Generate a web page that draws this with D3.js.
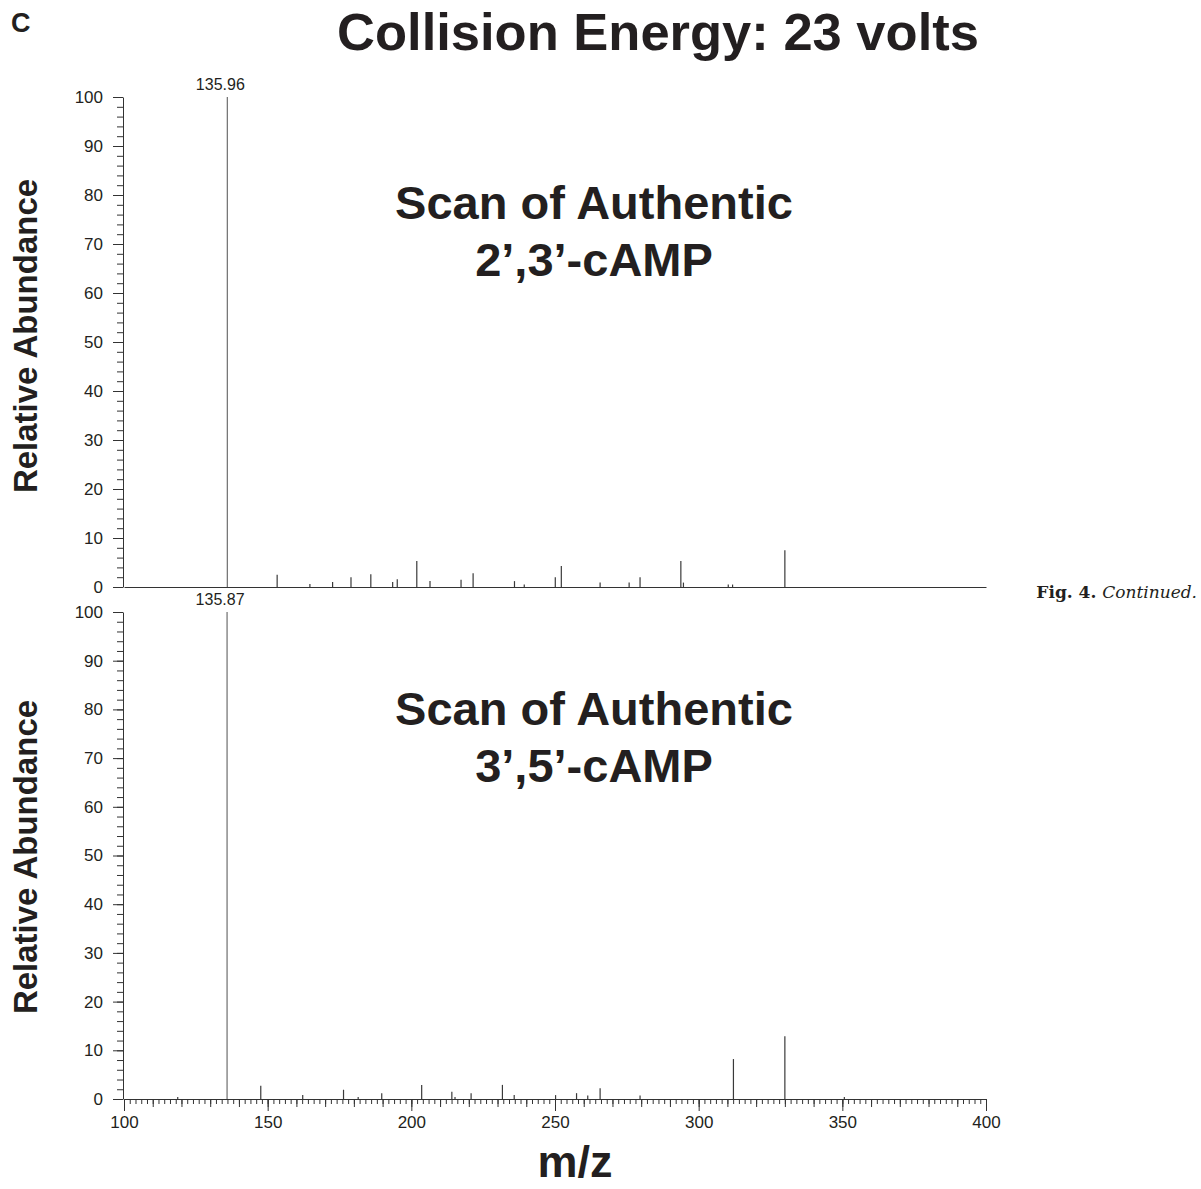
<!DOCTYPE html>
<html><head><meta charset="utf-8">
<script src="https://cdn.jsdelivr.net/npm/d3@7"></script>
<style>
html,body{margin:0;padding:0;background:#fff;}
svg{display:block;}
</style></head>
<body>
<svg id="chart" width="1201" height="1189"></svg>
<script>
// ---- data ----
const panelLabel = "C";
const mainTitle = "Collision Energy: 23 volts";
const xTickLabels = [100, 150, 200, 250, 300, 350, 400];
const yTickLabels = [0, 10, 20, 30, 40, 50, 60, 70, 80, 90, 100];

const topTitle = ["Scan of Authentic", "2\u2019,3\u2019-cAMP"];
const topPeakLabel = "135.96";
const topMz =  [135.96, 153.3, 164.7, 172.6, 179.0, 185.9, 193.5, 195.1, 201.9, 206.5, 217.3, 221.5, 235.9, 239.3, 250.1, 252.2, 265.7, 275.8, 279.6, 293.8, 294.7, 310.3, 311.8, 330.0];
const topInt = [100,    2.5,   0.6,   1.0,   2.0,   2.6,   1.0,   1.6,   5.3,   1.2,   1.5,   2.8,   1.2,   0.5,   2.0,   4.3,   0.9,   0.9,   2.0,   5.3,   0.9,   0.5,   0.5,   7.5];

const botTitle = ["Scan of Authentic", "3\u2019,5\u2019-cAMP"];
const botPeakLabel = "135.87";
const botMz =  [118.7, 135.87, 147.6, 162.2, 176.4, 181.5, 189.7, 203.6, 214.1, 215.2, 220.8, 231.7, 235.8, 250.2, 257.5, 261.4, 265.7, 279.6, 312.1, 330.0, 350.7];
const botInt = [0.4,   100,    2.7,   0.8,   1.9,   0.4,   1.2,   2.9,   1.5,   0.4,   1.2,   2.9,   0.8,   0.8,   1.2,   0.7,   2.2,   0.7,   8.2,   12.9,  0.4];

const xLabel = "m/z";
const yLabel = "Relative Abundance";
const captionBold = "Fig. 4.";
const captionItalic = "Continued.";

// ---- layout ----
const svg = d3.select("#chart");
const font = "'Liberation Sans', Arial, Helvetica, sans-serif";
const x = d3.scaleLinear().domain([100, 400]).range([124, 986]);

svg.append("text").attr("x", 11).attr("y", 32).text(panelLabel)
  .attr("font-family", font).attr("font-weight", "bold").attr("font-size", 27).attr("fill", "#231f20");
svg.append("text").attr("x", 658).attr("y", 50).attr("text-anchor", "middle").text(mainTitle)
  .attr("font-family", font).attr("font-weight", "bold").attr("font-size", 52.5).attr("fill", "#231f20");

function panel(cfg) {
  const y = d3.scaleLinear().domain([0, 100]).range([cfg.y0, cfg.y100]);
  const g = svg.append("g");
  const data = cfg.mz.map((m, i) => ({ mz: m, v: cfg.int[i] }));

  // y axis: major ticks with labels every 10, minor every 2
  const yAxisMinor = d3.axisLeft(y).tickValues(d3.range(0, 101, 2)).tickSize(6).tickFormat("");
  g.append("g").attr("transform", "translate(123,0)").call(yAxisMinor)
    .call(s => s.select(".domain").remove())
    .call(s => s.selectAll("line").attr("stroke", "#333").attr("stroke-width", 1));
  const yAxis = d3.axisLeft(y).tickValues(yTickLabels).tickSize(10).tickPadding(10).tickSizeOuter(0);
  g.append("g").attr("transform", "translate(123,0)").call(yAxis)
    .call(s => s.select(".domain").attr("stroke", "#333"))
    .call(s => s.selectAll("line").attr("stroke", "#333"))
    .call(s => s.selectAll("text").attr("font-family", font).attr("font-size", 17).attr("fill", "#231f20"));

  // x baseline
  if (cfg.showXTicks) {
    const minor = d3.axisBottom(x).tickValues(d3.range(100, 401, 2)).tickSize(5).tickFormat("").tickSizeOuter(0);
    g.append("g").attr("transform", `translate(0,${cfg.y0})`).call(minor)
      .call(s => s.selectAll("line").attr("stroke", "#333"))
      .call(s => s.select(".domain").attr("stroke", "#333"));
    const mid = d3.axisBottom(x).tickValues(d3.range(100, 401, 10)).tickSize(8).tickFormat("").tickSizeOuter(0);
    g.append("g").attr("transform", `translate(0,${cfg.y0})`).call(mid)
      .call(s => s.selectAll("line").attr("stroke", "#333"))
      .call(s => s.select(".domain").remove());
    const major = d3.axisBottom(x).tickValues(xTickLabels).tickSize(12).tickPadding(5).tickSizeOuter(0);
    g.append("g").attr("transform", `translate(0,${cfg.y0})`).call(major)
      .call(s => s.selectAll("line").attr("stroke", "#333"))
      .call(s => s.select(".domain").remove())
      .call(s => s.selectAll("text").attr("font-family", font).attr("font-size", 17).attr("fill", "#231f20"));
  } else {
    const base = d3.axisBottom(x).tickValues([]).tickSizeOuter(0);
    g.append("g").attr("transform", `translate(0,${cfg.y0})`).call(base)
      .call(s => s.select(".domain").attr("stroke", "#333"));
  }

  // peaks
  g.append("g").selectAll("line").data(data).join("line")
    .attr("x1", d => x(d.mz)).attr("x2", d => x(d.mz))
    .attr("y1", y(0)).attr("y2", d => y(d.v))
    .attr("stroke", d => d.v > 50 ? "#6d6d6d" : "#3a3a3a").attr("stroke-width", 1.2);

  // base peak label
  const top = data.reduce((a, b) => (b.v > a.v ? b : a));
  g.append("text").attr("x", x(top.mz) - 7).attr("y", y(100) - 7).attr("text-anchor", "middle")
    .text(cfg.peakLabel).attr("font-family", font).attr("font-size", 16).attr("fill", "#231f20");

  // y label
  g.append("text").attr("transform", `translate(37,${cfg.labelY}) rotate(-90)`).attr("text-anchor", "middle")
    .text(yLabel).attr("font-family", font).attr("font-weight", "bold").attr("font-size", 33).attr("fill", "#231f20");

  // in-plot title
  cfg.title.forEach((t, i) => {
    g.append("text").attr("x", 594).attr("y", cfg.titleY + i * 57).attr("text-anchor", "middle").text(t)
      .attr("font-family", font).attr("font-weight", "bold").attr("font-size", 47).attr("fill", "#231f20");
  });
}

panel({ y0: 587, y100: 97, mz: topMz, int: topInt, peakLabel: topPeakLabel, title: topTitle, titleY: 219, labelY: 336, showXTicks: false });
panel({ y0: 1099, y100: 612, mz: botMz, int: botInt, peakLabel: botPeakLabel, title: botTitle, titleY: 725, labelY: 857, showXTicks: true });

svg.append("text").attr("x", 575).attr("y", 1177).attr("text-anchor", "middle").text(xLabel)
  .attr("font-family", font).attr("font-weight", "bold").attr("font-size", 45).attr("fill", "#231f20");

const cap = svg.append("text").attr("x", 1197).attr("y", 598).attr("text-anchor", "end")
  .attr("font-family", "'DejaVu Serif', 'Liberation Serif', serif").attr("font-size", 17).attr("fill", "#231f20");
cap.append("tspan").attr("font-weight", "bold").text(captionBold + " ");
cap.append("tspan").attr("font-style", "italic").text(captionItalic);
</script>
</body></html>
